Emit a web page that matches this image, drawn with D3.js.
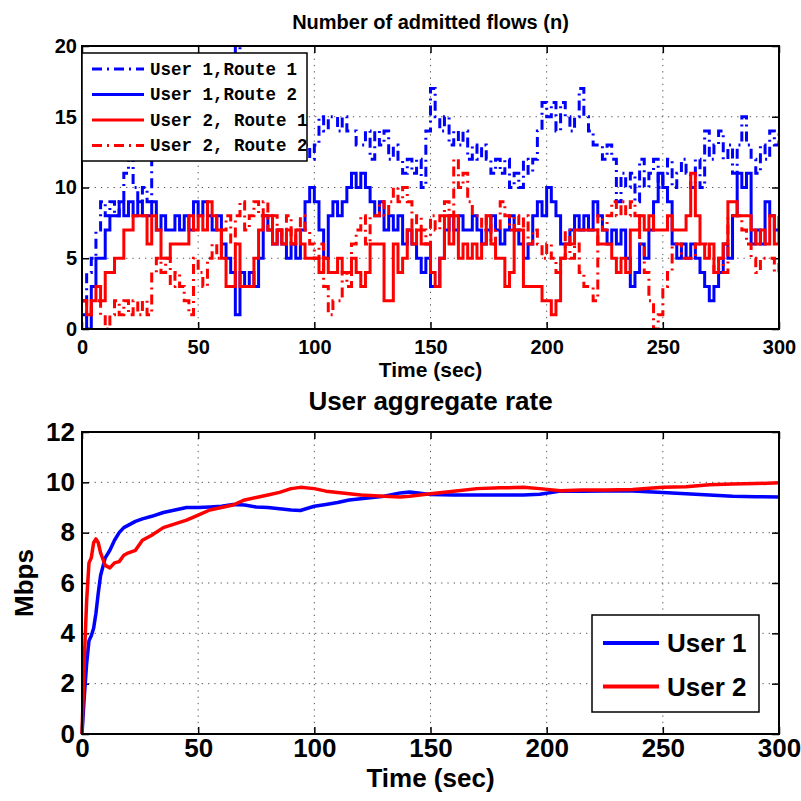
<!DOCTYPE html>
<html lang="en">
<head>
  <meta charset="UTF-8">
  <title>Admitted flows / User aggregate rate - D3</title>
  <script src="https://d3js.org/d3.v7.min.js"></script>
  <style>
    body {
      margin: 0;
      background-color: #fff;
    }
    svg {
      display: block;
      font-family: Arial, "Liberation Sans", sans-serif;
      font-weight: bold;
    }
    .grid line {
      stroke: #555;
      stroke-width: 1;
      stroke-dasharray: 1.3, 5;
    }
    .frame {
      fill: none;
      stroke: #000;
      stroke-width: 2;
    }
    .axis line {
      stroke: #000;
      stroke-width: 1.5;
    }
    .axis text {
      fill: #000;
    }
    .legend-box {
      fill: #fff;
      stroke: #000;
      stroke-width: 1.5;
    }
  </style>
</head>
<body>
<script>
  // ---- top panel: admitted flows, one sample every 2 s from t = 0 ----
  var flowStep = 2;
  var u1r1 = [2,4,5,7,9,8,9,8,9,11, 12,10,9,10,9,12,12,13,14,13, 14,15,14,16,15,16,17,16,17,18,
              18,19,19,20,19,18,18,17,17,16, 16,15,15,14,15,14,13,14,13,12, 13,15,14,15,15,14,15,14,14,13,
              13,14,12,14,13,14,12,13,12,11, 12,11,12,10,14,17,15,14,15,13, 14,13,14,12,13,12,13,12,11,12,
              11,12,10,11,10,12,11,12,14,16, 15,16,14,16,15,14,15,17,15,14, 13,13,12,13,12,9,11,10,11,9,
              12,10,11,12,10,11,12,10,11,12, 11,10,12,10,14,12,13,14,12,13, 11,13,15,13,12,11,13,12,14,13, 14];
  var u1r2 = [1,0,3,5,5,7,8,8,9,8, 9,8,9,8,8,9,7,8,7,7, 8,7,8,7,9,8,9,8,7,8,
              6,5,4,1,4,3,4,3,5,8, 7,6,7,6,5,6,5,7,9,10, 9,7,5,8,9,8,9,10,11,10,
              11,10,9,8,9,7,8,7,8,6, 7,6,5,4,5,3,3,5,7,8, 7,8,7,7,8,7,6,7,8,7,
              6,7,8,7,6,5,6,8,9,8, 10,9,8,6,6,7,8,7,8,7, 9,8,7,6,7,6,7,5,3,4,
              6,5,7,9,11,10,9,6,5,6, 5,6,5,4,3,2,3,4,6,5, 8,11,10,11,6,7,6,9,8,7, 8];
  var u2r1 = [2,1,2,3,2,4,4,5,5,7, 7,8,8,8,6,8,7,5,5,6, 6,6,6,8,7,8,7,9,8,7,
              5,3,3,6,3,3,3,5,7,8, 8,6,7,6,7,6,7,6,5,5, 5,4,5,4,4,5,4,4,5,4,
              3,4,6,6,6,2,2,6,4,5, 7,6,7,6,6,4,3,5,8,6, 8,5,6,5,6,5,6,8,6,5,
              5,3,4,7,7,3,3,3,3,2, 2,1,2,5,6,6,7,7,7,7, 7,6,6,6,5,4,5,4,7,7,
              8,7,8,7,7,7,8,7,7,7, 8,11,8,6,5,6,4,5,6,9, 9,8,8,8,7,6,7,6,8,6, 7];
  var u2r2 = [2,1,2,2,1,0,1,2,1,2, 1,2,1,2,1,4,5,4,5,3, 4,3,2,1,5,4,3,5,6,5,
              7,8,6,8,9,7,8,9,8,9, 7,8,7,6,8,6,7,8,7,6, 5,6,3,1,2,2,4,3,6,7,
              8,6,8,8,9,8,9,10,9,10, 9,7,8,7,6,8,7,8,9,8, 12,10,11,9,8,8,7,8,6,7,
              9,8,7,8,7,8,6,7,6,5, 6,5,4,5,7,5,6,4,3,3, 2,8,7,8,9,8,9,8,9,8,
              6,4,2,0,1,3,4,6,6,5, 5,5,6,6,6,5,4,5,4,8, 8,8,7,6,5,4,5,5,5,4, 5];
  var flowNames = ["User 1,Route 1", "User 1,Route 2", "User 2, Route 1", "User 2, Route 2"];

  // ---- bottom panel: user aggregate rate (Mbps) ----
  var rateTime = [0,1,2,3,4,5,6,7,8,10,12,14,16,18,20,23,26,30,35,40,45,50,55,60,65,70,75,80,85,90,94,
                  100,105,110,115,120,130,137,141,150,160,170,180,190,197,206,215,225,237,250,260,270,280,290,300];
  var rateUser1 = [0,1.5,2.8,3.7,3.9,4.2,4.8,5.6,6.3,7.0,7.3,7.7,8.0,8.2,8.3,8.45,8.55,8.65,8.8,8.9,9.0,9.0,9.02,9.05,
                   9.12,9.1,9.02,9.0,8.95,8.9,8.88,9.05,9.12,9.2,9.3,9.35,9.45,9.58,9.62,9.52,9.5,9.5,9.5,9.5,9.53,
                   9.65,9.65,9.66,9.66,9.6,9.55,9.5,9.45,9.43,9.42];
  var rateUser2 = [0,3.0,5.3,6.8,7.0,7.6,7.75,7.6,7.2,6.7,6.6,6.8,6.85,7.1,7.2,7.3,7.7,7.9,8.2,8.35,8.5,8.7,8.9,9.0,
                   9.1,9.3,9.4,9.5,9.6,9.75,9.8,9.75,9.65,9.6,9.55,9.5,9.45,9.42,9.45,9.55,9.65,9.75,9.78,9.8,9.75,
                   9.67,9.7,9.7,9.72,9.8,9.82,9.9,9.93,9.95,9.98];

  var timeTicks = [0, 50, 100, 150, 200, 250, 300];
  var flowTicks = [0, 5, 10, 15, 20];
  var rateTicks = [0, 2, 4, 6, 8, 10, 12];

  var svg = d3.select("body").append("svg")
      .attr("width", 801)
      .attr("height", 801);

  var left = 82, right = 779;

  // draws frame, grid, ticks on four sides
  function panel(top, bottom, yMax, yTicks, fontSize, xPad, yPad) {
    var x = d3.scaleLinear().domain([0, 300]).range([left, right]);
    var y = d3.scaleLinear().domain([0, yMax]).range([bottom, top]);

    var grid = svg.append("g").attr("class", "grid");
    grid.selectAll(".gx").data(timeTicks.slice(1, -1)).enter().append("line")
      .attr("x1", d => x(d)).attr("x2", d => x(d))
      .attr("y1", top).attr("y2", bottom);
    grid.selectAll(".gy").data(yTicks.slice(1, -1)).enter().append("line")
      .attr("x1", left).attr("x2", right)
      .attr("y1", d => y(d)).attr("y2", d => y(d));

    var ax = svg.append("g").attr("class", "axis")
      .attr("transform", "translate(0," + bottom + ")")
      .style("font-size", fontSize + "px")
      .call(d3.axisBottom(x).tickValues(timeTicks).tickSizeInner(-7).tickSizeOuter(0).tickPadding(xPad));
    var ay = svg.append("g").attr("class", "axis")
      .attr("transform", "translate(" + left + ",0)")
      .style("font-size", fontSize + "px")
      .call(d3.axisLeft(y).tickValues(yTicks).tickSizeInner(-7).tickSizeOuter(0).tickPadding(yPad));
    svg.append("g").attr("class", "axis")
      .attr("transform", "translate(0," + top + ")")
      .call(d3.axisTop(x).tickValues(timeTicks).tickSizeInner(-7).tickSizeOuter(0).tickFormat(""));
    svg.append("g").attr("class", "axis")
      .attr("transform", "translate(" + right + ",0)")
      .call(d3.axisRight(y).tickValues(yTicks).tickSizeInner(-7).tickSizeOuter(0).tickFormat(""));
    svg.selectAll(".axis .domain").remove();
    svg.selectAll(".axis text").attr("font-family", "Arial, 'Liberation Sans', sans-serif").attr("font-weight", "bold");

    return { x: x, y: y };
  }

  // ---------- top panel ----------
  var topY = 46, topB = 329;
  var p1 = panel(topY, topB, 20, flowTicks, 20, 11, 5);

  svg.append("clipPath").attr("id", "clip1").append("rect")
    .attr("x", left).attr("y", topY).attr("width", right - left).attr("height", topB - topY);

  var flowLine = d3.line()
    .x((d, i) => p1.x(i * flowStep))
    .y(d => p1.y(d))
    .curve(d3.curveStepAfter);

  var flowSeries = [
    { values: u1r1, color: "#0000ff", dash: "10,5,2,5" },
    { values: u1r2, color: "#0000ff", dash: null },
    { values: u2r1, color: "#ff0000", dash: null },
    { values: u2r2, color: "#ff0000", dash: "10,5,2,5" }
  ];

  svg.append("g").attr("clip-path", "url(#clip1)")
    .selectAll("path")
    .data(flowSeries)
    .enter()
    .append("path")
    .attr("d", d => flowLine(d.values))
    .attr("fill", "none")
    .attr("stroke", d => d.color)
    .attr("stroke-width", 3)
    .attr("stroke-dasharray", d => d.dash);

  svg.append("rect").attr("class", "frame")
    .attr("x", left).attr("y", topY).attr("width", right - left).attr("height", topB - topY);

  // legend (covers the lines, as in the original)
  var lg1 = svg.append("g");
  lg1.append("rect").attr("class", "legend-box")
    .attr("x", left).attr("y", 53).attr("width", 225).attr("height", 108);
  flowSeries.forEach(function(s, i) {
    var cy = 69 + i * 25.5;
    lg1.append("line")
      .attr("x1", 92).attr("x2", 144).attr("y1", cy).attr("y2", cy)
      .attr("stroke", s.color).attr("stroke-width", 3)
      .attr("stroke-dasharray", s.dash);
    lg1.append("text")
      .attr("x", 150).attr("y", cy).attr("dy", "0.32em")
      .attr("font-family", "'Liberation Mono', 'Courier New', monospace")
      .attr("font-size", 17.5)
      .attr("font-weight", "bold")
      .text(flowNames[i]);
  });

  svg.append("text")
    .attr("x", (left + right) / 2).attr("y", 29)
    .attr("text-anchor", "middle").attr("font-size", 20)
    .text("Number of admitted flows (n)");
  svg.append("text")
    .attr("x", (left + right) / 2).attr("y", 377)
    .attr("text-anchor", "middle").attr("font-size", 21)
    .text("Time (sec)");

  // ---------- bottom panel ----------
  var botY = 432, botB = 734;
  var p2 = panel(botY, botB, 12, rateTicks, 26, 4.5, 7);

  var rateLine = d3.line()
    .x((d, i) => p2.x(rateTime[i]))
    .y(d => p2.y(d));

  var rateSeries = [
    { values: rateUser1, color: "#0000ff", name: "User 1" },
    { values: rateUser2, color: "#ff0000", name: "User 2" }
  ];

  svg.append("g").selectAll("path")
    .data(rateSeries)
    .enter()
    .append("path")
    .attr("d", d => rateLine(d.values))
    .attr("fill", "none")
    .attr("stroke", d => d.color)
    .attr("stroke-width", 3.5)
    .attr("stroke-linejoin", "round");

  svg.append("rect").attr("class", "frame")
    .attr("x", left).attr("y", botY).attr("width", right - left).attr("height", botB - botY);

  var lg2 = svg.append("g");
  lg2.append("rect").attr("class", "legend-box")
    .attr("x", 592).attr("y", 615).attr("width", 167).attr("height", 97);
  rateSeries.forEach(function(s, i) {
    var cy = 643 + i * 43.5;
    lg2.append("line")
      .attr("x1", 603).attr("x2", 659).attr("y1", cy).attr("y2", cy)
      .attr("stroke", s.color).attr("stroke-width", 4);
    lg2.append("text")
      .attr("x", 667).attr("y", cy).attr("dy", "0.36em")
      .attr("font-size", 26)
      .text(s.name);
  });

  svg.append("text")
    .attr("x", (left + right) / 2).attr("y", 410)
    .attr("text-anchor", "middle").attr("font-size", 26)
    .text("User aggregate rate");
  svg.append("text")
    .attr("x", (left + right) / 2).attr("y", 787)
    .attr("text-anchor", "middle").attr("font-size", 26)
    .text("Time (sec)");
  svg.append("text")
    .attr("transform", "translate(33," + (botY + botB) / 2 + ") rotate(-90)")
    .attr("text-anchor", "middle").attr("font-size", 26)
    .text("Mbps");
</script>
</body>
</html>
